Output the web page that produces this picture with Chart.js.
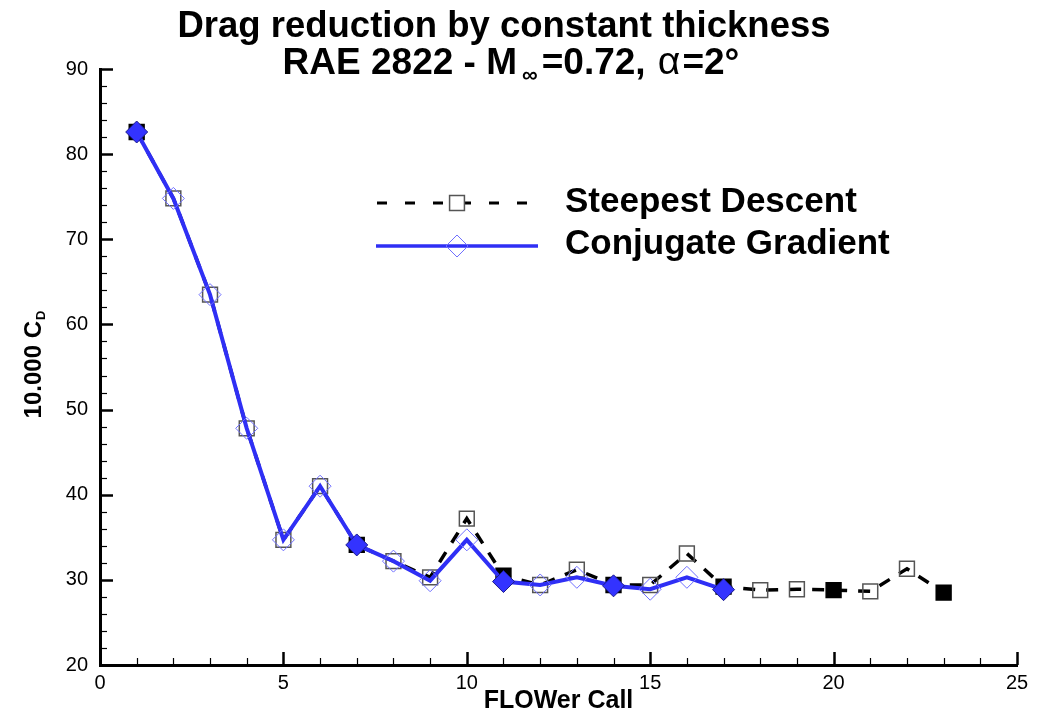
<!DOCTYPE html>
<html><head><meta charset="utf-8">
<script src="https://cdn.jsdelivr.net/npm/chart.js@4/dist/chart.umd.min.js"></script>
<style>html,body{margin:0;padding:0;background:#fff}#wrap{width:1040px;height:713px}</style>
</head><body><div id="wrap"><canvas id="c" width="1040" height="713"></canvas></div>
<script>
// ---- data ----
const flowerCall = [1,2,3,4,5,6,7,8,9,10,11,12,13,14,15,16,17,18,19,20,21,22,23];
const steepestDescent = [82.6,74.8,63.5,47.8,34.7,41.0,34.1,32.2,30.3,37.2,30.5,29.4,31.2,29.4,29.4,33.1,29.2,28.8,28.9,28.8,28.65,31.3,28.5];
const conjugateGradient = [82.6,74.8,63.5,47.8,34.7,41.0,34.1,32.2,29.9,34.7,29.8,29.4,30.3,29.3,28.9,30.3,28.85];
const steepestFilledCalls = [1,7,11,14,17,20,23];
const conjugateFilledCalls = [1,7,11,14,17];
const xTicks = [0,5,10,15,20,25];
const yTicks = [20,30,40,50,60,70,80,90];
const titleLine1 = 'Drag reduction by constant thickness';
const legendLabels = ['Steepest Descent','Conjugate Gradient'];

const FONT = '"Liberation Sans", Arial, Helvetica, sans-serif';
const BLUE = '#2f2ff5';

const sdPts = steepestDescent.map((v,i)=>({x:flowerCall[i],y:v}));
const cgPts = conjugateGradient.map((v,i)=>({x:flowerCall[i],y:v}));
const sdFilled = flowerCall.slice(0,steepestDescent.length).map(c=>steepestFilledCalls.includes(c));
const cgFilled = flowerCall.slice(0,conjugateGradient.length).map(c=>conjugateFilledCalls.includes(c));

const ticksPlugin = {
  id:'inTicks',
  beforeDatasetsDraw(chart){
    const ctx = chart.ctx, xs = chart.scales.x, ys = chart.scales.y, a = chart.chartArea;
    ctx.save(); ctx.strokeStyle = '#000';
    for (let v = xs.min; v <= xs.max; v += 1) {
      const major = v % 5 === 0; const px = Math.round(xs.getPixelForValue(v)) + 0.5;
      ctx.lineWidth = major ? 2.5 : 1.2;
      ctx.beginPath(); ctx.moveTo(px, a.bottom); ctx.lineTo(px, a.bottom - (major ? 13 : 7)); ctx.stroke();
    }
    for (let v = ys.min; v <= ys.max; v += 2) {
      const major = v % 10 === 0; const py = Math.round(ys.getPixelForValue(v)) + 0.5;
      ctx.lineWidth = major ? 2.5 : 1.2;
      ctx.beginPath(); ctx.moveTo(a.left, py); ctx.lineTo(a.left + (major ? 13 : 7), py); ctx.stroke();
    }
    ctx.restore();
  }
};

function drawMarker(ctx, style, x, y, r, fill, stroke, lw){
  ctx.save();
  ctx.beginPath();
  if (style === 'rect') { const s = Math.SQRT1_2 * r; ctx.rect(x - s, y - s, 2*s, 2*s); }
  else { ctx.moveTo(x - r, y); ctx.lineTo(x, y - r); ctx.lineTo(x + r, y); ctx.lineTo(x, y + r); ctx.closePath(); }
  if (fill) { ctx.fillStyle = fill; ctx.fill(); }
  ctx.lineWidth = lw; ctx.strokeStyle = stroke; ctx.stroke();
  ctx.restore();
}

const textPlugin = {
  id:'texts',
  afterDraw(chart){
    const ctx = chart.ctx;
    ctx.save();
    ctx.fillStyle = '#000';
    // Title line 1
    ctx.font = 'bold 36.5px ' + FONT;
    ctx.textBaseline = 'alphabetic';
    ctx.textAlign = 'center';
    ctx.fillText(titleLine1, 504, 37);
    // Title line 2 with subscript
    const parts = [
      {t:'RAE 2822 - M', f:'bold 37px ' + FONT, dy:0, gap:5},
      {t:'\u221E', f:'bold 22px ' + FONT, dy:8, gap:4},
      {t:'=0.72, ', f:'bold 37px ' + FONT, dy:0, gap:2},
      {t:'\u03B1', f:'39px ' + FONT, dy:0, gap:2},
      {t:'=2\u00B0', f:'bold 37px ' + FONT, dy:0, gap:0}
    ];
    let tw = 0;
    parts.forEach(p=>{ ctx.font = p.f; p.w = ctx.measureText(p.t).width + p.gap; tw += p.w; });
    let x = 511 - tw/2;
    ctx.textAlign = 'left';
    parts.forEach(p=>{ ctx.font = p.f; ctx.fillText(p.t, x, 74 + p.dy); x += p.w; });

    // Y axis title rotated
    ctx.save();
    ctx.translate(41, 365);
    ctx.rotate(-Math.PI/2);
    ctx.font = 'bold 24px ' + FONT;
    const t1 = '10.000 C';
    const w1 = ctx.measureText(t1).width;
    ctx.font = 'bold 13px ' + FONT;
    const w2 = ctx.measureText('D').width;
    const startX = -(w1 + w2)/2;
    ctx.font = 'bold 24px ' + FONT;
    ctx.textAlign = 'left';
    ctx.fillText(t1, startX, 0);
    ctx.font = 'bold 13px ' + FONT;
    ctx.fillText('D', startX + w1 + 1, 4);
    ctx.restore();

    // Legend
    ctx.lineWidth = 3;
    ctx.strokeStyle = '#000';
    ctx.setLineDash([10, 18]);
    ctx.beginPath(); ctx.moveTo(377, 203); ctx.lineTo(534, 203); ctx.stroke();
    ctx.setLineDash([]);
    drawMarker(ctx, 'rect', 457, 203, 10.5, '#fff', '#555', 1.5);
    ctx.strokeStyle = BLUE; ctx.lineWidth = 3.5;
    ctx.beginPath(); ctx.moveTo(376, 246); ctx.lineTo(538, 246); ctx.stroke();
    drawMarker(ctx, 'rectRot', 457, 246, 11, null, '#6f6fff', 1);
    ctx.fillStyle = '#000';
    ctx.font = 'bold 35px ' + FONT;
    ctx.textBaseline = 'middle';
    ctx.textAlign = 'left';
    ctx.fillText(legendLabels[0], 565, 202);
    ctx.fillText(legendLabels[1], 565, 244);
    ctx.restore();
  }
};

new Chart(document.getElementById('c'), {
  type: 'line',
  data: {
    datasets: [
      {
        label: legendLabels[1], data: cgPts, order: 0,
        borderColor: BLUE, borderWidth: 4, tension: 0, fill: false,
        pointStyle: 'rectRot', pointRadius: 11, pointHoverRadius: 11,
        pointBackgroundColor: cgFilled.map(f=>f ? '#3333ff' : 'rgba(0,0,0,0)'),
        pointBorderColor: cgFilled.map(f=>f ? '#1c1c8c' : '#6f6fff'),
        pointBorderWidth: 1
      },
      {
        label: legendLabels[0], data: sdPts, order: 1,
        borderColor: '#000', borderWidth: 3.5, borderDash: [12, 11], tension: 0, fill: false,
        pointStyle: 'rect', pointRadius: 10.5, pointHoverRadius: 10.5,
        pointBackgroundColor: sdFilled.map(f=>f ? '#000' : 'rgba(0,0,0,0)'),
        pointBorderColor: sdFilled.map(f=>f ? '#000' : '#555'),
        pointBorderWidth: 1.5
      }
    ]
  },
  options: {
    responsive: false, animation: false, devicePixelRatio: 1,
    layout: { padding: { top: 69, right: 23, left: 0, bottom: 0 } },
    plugins: { legend: { display: false }, tooltip: { enabled: false }, title: { display: false } },
    scales: {
      x: {
        type: 'linear', min: 0, max: 25,
        afterFit(s){ s.height = 48; },
        afterBuildTicks(s){ s.ticks = xTicks.map(v=>({value:v})); },
        grid: { drawOnChartArea: false, drawTicks: false },
        border: { display: true, color: '#000', width: 3 },
        ticks: { color: '#000', font: { family: FONT, size: 20 }, padding: 6, maxRotation: 0 },
        title: { display: true, text: 'FLOWer Call', color: '#000', font: { family: FONT, size: 25, weight: 'bold', lineHeight: 1 }, padding: { top: 0, bottom: -1 } }
      },
      y: {
        min: 20, max: 90,
        afterFit(s){ s.width = 100; },
        afterBuildTicks(s){ s.ticks = yTicks.map(v=>({value:v})); },
        grid: { drawOnChartArea: false, drawTicks: false },
        border: { display: true, color: '#000', width: 3 },
        ticks: { color: '#000', font: { family: FONT, size: 20 }, padding: 12 }
      }
    }
  },
  plugins: [ticksPlugin, textPlugin]
});
</script>
</body></html>
